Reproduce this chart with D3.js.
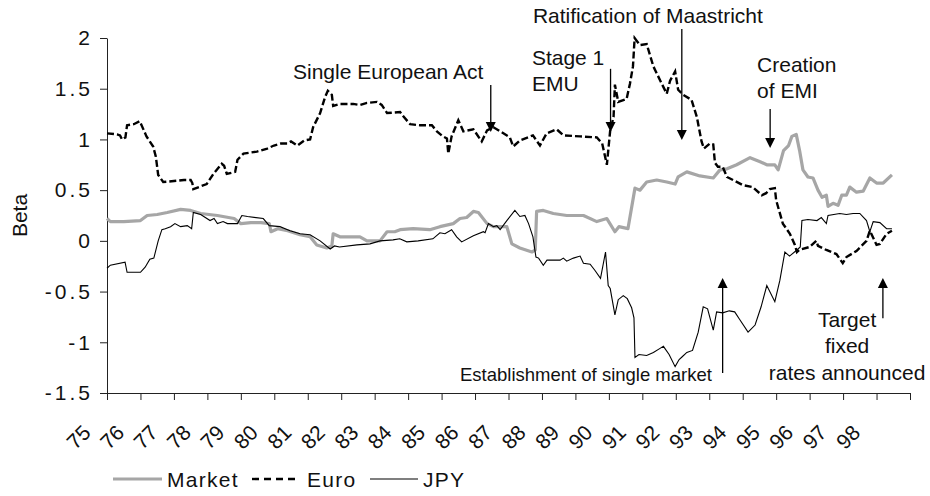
<!DOCTYPE html>
<html>
<head>
<meta charset="utf-8">
<script src="https://cdn.jsdelivr.net/npm/d3@7"></script>
<style>
  body { margin: 0; background: #fff; }
  svg { display: block; font-family: 'Liberation Sans', Arial, sans-serif; }
</style>
</head>
<body>
<svg id="chart" width="930" height="496"></svg>
<script>
// [year, beta] pairs
const market = [
  [75.0,0.22],[75.1,0.19],[75.5,0.19],[76.0,0.20],[76.2,0.25],[76.5,0.26],[76.8,0.28],[77.2,0.31],
  [77.5,0.30],[77.8,0.27],[78.3,0.25],[78.8,0.22],[79.0,0.17],[79.3,0.18],[79.6,0.18],[79.85,0.17],
  [79.9,0.09],[80.1,0.12],[80.4,0.10],[80.77,0.06],[81.07,0.04],[81.27,-0.04],[81.57,-0.07],[81.72,-0.05],
  [81.76,0.07],[81.96,0.04],[82.3,0.04],[82.56,0.04],[82.77,0.0],[83.16,0.0],[83.37,0.09],[83.6,0.09],
  [83.76,0.11],[84.15,0.12],[84.65,0.11],[84.95,0.14],[85.35,0.17],[85.55,0.22],[85.75,0.23],[85.95,0.29],
  [86.1,0.28],[86.36,0.17],[86.55,0.14],[86.95,0.14],[87.1,-0.03],[87.34,-0.07],[87.7,-0.11],[87.8,-0.09],
  [87.84,0.29],[88.04,0.30],[88.34,0.27],[88.74,0.25],[89.24,0.25],[89.64,0.19],[89.94,0.22],[90.18,0.09],
  [90.3,0.14],[90.57,0.12],[90.78,0.52],[90.93,0.50],[91.13,0.58],[91.43,0.60],[91.73,0.58],[91.98,0.56],
  [92.07,0.63],[92.33,0.68],[92.72,0.64],[93.12,0.62],[93.32,0.70],[93.53,0.71],[93.82,0.75],[94.22,0.82],
  [94.52,0.78],[94.72,0.75],[94.96,0.75],[95.06,0.70],[95.22,0.89],[95.37,0.94],[95.47,1.03],[95.6,1.05],
  [95.7,0.89],[95.8,0.70],[95.95,0.63],[96.1,0.62],[96.25,0.50],[96.37,0.43],[96.5,0.45],[96.55,0.34],
  [96.7,0.37],[96.85,0.35],[96.96,0.45],[97.1,0.45],[97.2,0.53],[97.4,0.48],[97.6,0.49],[97.8,0.62],
  [98.0,0.57],[98.2,0.57],[98.46,0.65]
];

const euro = [
  [75.0,1.06],[75.3,1.05],[75.39,1.04],[75.45,1.0],[75.55,1.02],[75.6,1.14],[75.8,1.15],[75.98,1.18],
  [76.18,1.03],[76.38,0.93],[76.46,0.83],[76.53,0.65],[76.68,0.58],[77.0,0.59],[77.3,0.60],[77.5,0.60],
  [77.55,0.57],[77.58,0.51],[77.98,0.56],[78.18,0.66],[78.43,0.76],[78.5,0.74],[78.58,0.66],[78.83,0.68],
  [78.9,0.80],[79.08,0.86],[79.48,0.88],[79.79,0.91],[79.99,0.94],[80.2,0.96],[80.39,0.96],[80.5,0.98],
  [80.69,0.94],[80.9,0.99],[81.07,1.0],[81.16,1.12],[81.37,1.26],[81.52,1.42],[81.6,1.48],[81.72,1.44],
  [81.76,1.33],[81.96,1.35],[82.36,1.35],[82.56,1.34],[82.77,1.36],[83.07,1.37],[83.21,1.34],[83.37,1.26],
  [83.76,1.27],[83.85,1.23],[84.06,1.15],[84.35,1.14],[84.71,1.14],[84.86,1.08],[85.04,1.03],[85.16,1.01],
  [85.2,0.86],[85.3,1.03],[85.5,1.19],[85.65,1.08],[85.95,1.10],[86.2,0.98],[86.36,1.09],[86.55,1.12],
  [86.75,1.08],[87.04,1.02],[87.14,0.93],[87.34,0.99],[87.73,1.04],[87.94,0.94],[88.14,1.06],[88.44,1.10],
  [88.64,1.04],[89.14,1.03],[89.64,1.02],[89.8,0.96],[89.94,0.75],[90.04,1.09],[90.14,1.22],[90.18,1.54],
  [90.28,1.37],[90.53,1.40],[90.63,1.55],[90.72,1.72],[90.77,2.0],[90.93,1.93],[91.13,1.94],[91.33,1.72],
  [91.58,1.55],[91.73,1.45],[91.83,1.58],[91.98,1.67],[92.07,1.49],[92.22,1.44],[92.47,1.39],[92.63,1.22],
  [92.77,0.98],[92.84,0.91],[93.02,0.96],[93.12,0.95],[93.17,0.77],[93.26,0.73],[93.4,0.73],[93.53,0.63],
  [93.71,0.60],[94.0,0.55],[94.3,0.53],[94.57,0.45],[94.7,0.47],[94.81,0.51],[94.96,0.52],[95.0,0.40],
  [95.2,0.17],[95.41,0.07],[95.56,-0.04],[95.62,-0.11],[95.69,-0.09],[96.0,-0.06],[96.1,-0.03],[96.2,0.0],
  [96.25,-0.05],[96.5,-0.09],[96.8,-0.13],[96.99,-0.22],[97.1,-0.16],[97.4,-0.10],[97.7,0.0],[97.8,0.10],
  [98.0,-0.04],[98.1,-0.03],[98.3,0.07],[98.46,0.10]
];

const jpy = [
  [75.0,-0.27],[75.1,-0.24],[75.54,-0.21],[75.6,-0.31],[76.0,-0.31],[76.14,-0.26],[76.28,-0.18],[76.4,-0.17],
  [76.53,0.0],[76.64,0.11],[76.74,0.12],[76.9,0.14],[77.03,0.17],[77.2,0.14],[77.4,0.15],[77.53,0.12],
  [77.58,0.28],[77.8,0.26],[78.08,0.20],[78.2,0.22],[78.3,0.17],[78.47,0.19],[78.6,0.17],[78.9,0.17],
  [79.03,0.25],[79.2,0.24],[79.67,0.22],[79.85,0.15],[80.17,0.14],[80.47,0.10],[80.77,0.07],[81.07,0.06],
  [81.37,0.0],[81.67,-0.08],[81.8,-0.05],[81.95,-0.06],[82.47,-0.04],[82.86,-0.03],[83.16,0.0],[83.55,0.01],
  [83.75,0.02],[83.96,-0.01],[84.3,0.0],[84.74,0.02],[84.95,0.08],[85.1,0.07],[85.3,0.11],[85.45,0.04],
  [85.6,-0.01],[85.95,0.05],[86.25,0.09],[86.3,0.08],[86.4,0.17],[86.55,0.14],[86.65,0.15],[86.75,0.11],
  [86.95,0.20],[87.19,0.30],[87.34,0.24],[87.49,0.25],[87.6,0.17],[87.73,0.04],[87.82,-0.16],[87.9,-0.17],
  [88.04,-0.24],[88.15,-0.19],[88.54,-0.19],[88.64,-0.17],[88.74,-0.20],[88.94,-0.17],[89.14,-0.15],[89.24,-0.22],
  [89.44,-0.23],[89.58,-0.29],[89.75,-0.37],[89.9,-0.11],[89.98,-0.44],[90.04,-0.47],[90.18,-0.73],[90.28,-0.58],
  [90.43,-0.54],[90.55,-0.57],[90.68,-0.66],[90.75,-0.76],[90.78,-1.15],[90.9,-1.12],[91.13,-1.13],[91.33,-1.10],
  [91.53,-1.06],[91.63,-1.04],[91.8,-1.12],[91.98,-1.24],[92.1,-1.17],[92.2,-1.14],[92.33,-1.10],[92.5,-1.08],
  [92.67,-0.90],[92.82,-0.65],[92.95,-0.67],[93.12,-0.88],[93.22,-0.70],[93.4,-0.71],[93.6,-0.69],[93.76,-0.70],
  [93.9,-0.77],[94.16,-0.90],[94.37,-0.83],[94.55,-0.65],[94.72,-0.44],[94.96,-0.60],[95.11,-0.39],[95.26,-0.11],
  [95.4,-0.15],[95.62,-0.09],[95.72,-0.06],[95.77,0.20],[95.95,0.21],[96.22,0.20],[96.35,0.23],[96.5,0.17],
  [96.55,0.25],[96.9,0.27],[97.1,0.26],[97.3,0.27],[97.5,0.27],[97.7,0.20],[97.8,0.09],[97.9,0.19],
  [98.1,0.18],[98.3,0.12],[98.46,0.12]
];

const yearLabels = ['75','76','77','78','79','80','81','82','83','84','85','86',
  '87','88','89','90','91','92','93','94','95','96','97','98'];
const betaTicks = [-1.5, -1, -0.5, 0, 0.5, 1, 1.5, 2];
const seriesNames = ['Market', 'Euro', 'JPY'];

// event arrows: year, value at tail, value at tip
const arrows = [
  [86.47, 1.537, 1.073],
  [90.05, 1.696, 1.073],
  [92.18, 2.089, 0.994],
  [94.82, 1.300, 0.916],
  [93.40, -1.303, -0.366],
  [98.19, -0.763, -0.366]
];

// event labels: year, value of first baseline, anchor, lines
const notes = [
  [80.56, 1.596, 'start', ['Single European Act']],
  [87.73, 2.148, 'start', ['Ratification of Maastricht']],
  [87.70, 1.734, 'start', ['Stage 1', 'EMU']],
  [94.43, 1.665, 'start', ['Creation', 'of EMI']],
  [97.12, -0.848, 'middle', ['Target', 'fixed', 'rates announced']]
];
const marketNote = [85.55, -1.382, 'Establishment of single market'];

const svg = d3.select('#chart');

const x = d3.scaleLinear().domain([75, 99]).range([107, 910]);
const y = d3.scaleLinear().domain([-1.5, 2]).range([393, 38]);

// axes
const yAxis = svg.append('g')
    .attr('transform', `translate(${x(75)},0)`)
    .call(d3.axisLeft(y)
      .tickValues(betaTicks)
      .tickSize(7)
      .tickSizeOuter(0)
      .tickFormat(d => String(d)));

yAxis.select('.domain').attr('stroke', '#222');
yAxis.selectAll('.tick line').attr('stroke', '#222');
yAxis.selectAll('.tick text')
    .attr('x', -14)
    .attr('fill', '#111')
    .style('font-size', '21px')
    .style('letter-spacing', '3px')
    .style('font-family', "'Liberation Sans', Arial, sans-serif");

const xAxis = svg.append('g')
    .attr('transform', `translate(0,${y(-1.5)})`)
    .call(d3.axisBottom(x)
      .tickValues(d3.range(75, 100))
      .tickSize(7)
      .tickSizeOuter(0)
      .tickFormat(''));

xAxis.select('.domain').attr('stroke', '#222');
xAxis.selectAll('.tick line').attr('stroke', '#222');

svg.append('g')
  .selectAll('text')
  .data(yearLabels)
  .join('text')
    .attr('transform', (d, i) => `translate(${x(75 + i) - 15},434) rotate(-45)`)
    .attr('text-anchor', 'end')
    .attr('fill', '#111')
    .style('font-size', '21px')
    .text(d => d);

svg.append('text')
    .attr('transform', `translate(27,${(y(2) + y(-1.5)) / 2}) rotate(-90)`)
    .attr('text-anchor', 'middle')
    .attr('fill', '#111')
    .style('font-size', '21px')
    .text('Beta');

// lines
const line = d3.line()
    .x(d => x(d[0]))
    .y(d => y(d[1]));

svg.append('path')
    .datum(market)
    .attr('fill', 'none')
    .attr('stroke', '#a6a6a6')
    .attr('stroke-width', 3.2)
    .attr('stroke-linejoin', 'round')
    .attr('d', line);

svg.append('path')
    .datum(euro)
    .attr('fill', 'none')
    .attr('stroke', '#000')
    .attr('stroke-width', 2.4)
    .attr('stroke-dasharray', '7,3')
    .attr('d', line);

svg.append('path')
    .datum(jpy)
    .attr('fill', 'none')
    .attr('stroke', '#000')
    .attr('stroke-width', 1.1)
    .attr('d', line);

// annotations
const ann = svg.append('g');

arrows.forEach(([yr, from, to]) => {
  const ax = x(yr);
  const y1 = y(from);
  const y2 = y(to);
  const dir = y2 > y1 ? 1 : -1;
  ann.append('line')
      .attr('x1', ax).attr('x2', ax)
      .attr('y1', y1).attr('y2', y2 - dir * 6)
      .attr('stroke', '#000')
      .attr('stroke-width', 1.3);
  ann.append('path')
      .attr('d', `M${ax - 5},${y2 - dir * 10}L${ax + 5},${y2 - dir * 10}L${ax},${y2}Z`)
      .attr('fill', '#000');
});

notes.forEach(([yr, val, anchor, lines]) => {
  const t = ann.append('text')
      .attr('x', x(yr))
      .attr('y', y(val))
      .attr('text-anchor', anchor)
      .attr('fill', '#111')
      .style('font-size', '21px');
  lines.forEach((s, i) => {
    t.append('tspan')
        .attr('x', x(yr))
        .attr('dy', i === 0 ? 0 : 26.5)
        .text(s);
  });
});

ann.append('text')
    .attr('x', x(marketNote[0]))
    .attr('y', y(marketNote[1]))
    .attr('fill', '#111')
    .style('font-size', '18.5px')
    .text(marketNote[2]);

// legend
const legendItems = [
  { name: seriesNames[0], x1: 113, x2: 162, tx: 167, stroke: '#a6a6a6', w: 3.2, dash: null },
  { name: seriesNames[1], x1: 252, x2: 300, tx: 307, stroke: '#000', w: 2.4, dash: '7,5' },
  { name: seriesNames[2], x1: 370, x2: 418, tx: 423, stroke: '#000', w: 1.1, dash: null }
];

const legend = svg.append('g').attr('transform', 'translate(0,479)');

legendItems.forEach(it => {
  legend.append('line')
      .attr('x1', it.x1).attr('x2', it.x2)
      .attr('stroke', it.stroke)
      .attr('stroke-width', it.w)
      .attr('stroke-dasharray', it.dash);
  legend.append('text')
      .attr('x', it.tx)
      .attr('y', 8)
      .attr('fill', '#111')
      .style('font-size', '21px')
      .style('letter-spacing', '1.3px')
      .text(it.name);
});
</script>
</body>
</html>
